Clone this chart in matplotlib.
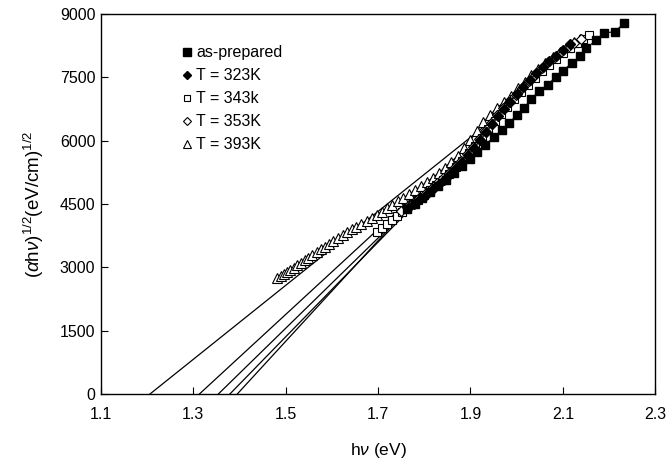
import numpy as np
import matplotlib
matplotlib.use('Agg')
import matplotlib.pyplot as plt

plt.rcParams['font.family'] = ['Liberation Sans', 'DejaVu Sans']
plt.rcParams['mathtext.fontset'] = 'custom'
plt.rcParams['mathtext.rm'] = 'Liberation Sans'
plt.rcParams['mathtext.it'] = 'Liberation Sans:italic'

# as-prepared (filled squares)
x_asp = [1.762, 1.779, 1.796, 1.813, 1.830, 1.847, 1.864, 1.881, 1.898, 1.915,
         1.932, 1.950, 1.969, 1.983, 2.001, 2.016, 2.032, 2.048, 2.067, 2.084,
         2.101, 2.119, 2.138, 2.150, 2.172, 2.190, 2.212, 2.232]
y_asp = [4380, 4510, 4640, 4780, 4920, 5070, 5230, 5400, 5570, 5740,
         5910, 6080, 6250, 6431, 6604, 6785, 6997, 7178, 7327, 7508,
         7665, 7846, 8003, 8187, 8384, 8558, 8582, 8780]

# T = 323K (filled diamonds)
x_323 = [1.765, 1.778, 1.791, 1.804, 1.817, 1.830, 1.843, 1.856, 1.869, 1.882,
         1.895, 1.908, 1.921, 1.934, 1.947, 1.960, 1.973, 1.986, 2.000, 2.014,
         2.028, 2.042, 2.056, 2.070, 2.085, 2.100, 2.115]
y_323 = [4400, 4500, 4610, 4720, 4840, 4960, 5080, 5210, 5350, 5500,
         5660, 5830, 6010, 6200, 6390, 6580, 6760, 6930, 7100, 7270,
         7440, 7600, 7750, 7890, 8020, 8160, 8290]

# T = 343k (open squares)
x_343 = [1.697, 1.708, 1.719, 1.730, 1.741, 1.752, 1.763, 1.775, 1.787, 1.800,
         1.813, 1.826, 1.840, 1.854, 1.868, 1.882, 1.896, 1.910, 1.924, 1.938,
         1.952, 1.966, 1.980, 1.995, 2.010, 2.025, 2.040, 2.055, 2.070, 2.085,
         2.100, 2.115, 2.130, 2.143, 2.156]
y_343 = [3850, 3935, 4025, 4115, 4210, 4310, 4400, 4500, 4600, 4710,
         4830, 4950, 5080, 5220, 5370, 5530, 5700, 5880, 6070, 6270,
         6460, 6640, 6810, 6980, 7150, 7320, 7490, 7650, 7800, 7940,
         8080, 8200, 8320, 8420, 8500]

# T = 353K (open diamonds)
x_353 = [1.750, 1.763, 1.776, 1.789, 1.802, 1.815, 1.828, 1.841, 1.854, 1.867,
         1.880, 1.893, 1.906, 1.919, 1.932, 1.945, 1.958, 1.971, 1.984, 1.998,
         2.012, 2.026, 2.040, 2.054, 2.068, 2.082, 2.096, 2.110, 2.125, 2.140]
y_353 = [4330, 4430, 4530, 4640, 4750, 4870, 4990, 5110, 5240, 5380,
         5530, 5690, 5860, 6040, 6230, 6420, 6600, 6770, 6930, 7090,
         7250, 7410, 7570, 7720, 7860, 7990, 8110, 8220, 8320, 8400]

# T = 393K (open triangles)
x_393 = [1.482, 1.489, 1.496, 1.503, 1.510, 1.517, 1.525, 1.533, 1.541, 1.549,
         1.558, 1.567, 1.576, 1.585, 1.594, 1.603, 1.613, 1.623, 1.633, 1.643,
         1.653, 1.664, 1.675, 1.686, 1.697, 1.708, 1.719, 1.731, 1.743, 1.755,
         1.767, 1.779, 1.792, 1.805, 1.818, 1.831, 1.844, 1.858, 1.872, 1.886,
         1.900, 1.914, 1.928, 1.942, 1.957, 1.972, 1.987, 2.002, 2.017, 2.032,
         2.047, 2.062, 2.078, 2.094, 2.110, 2.125, 2.138]
y_393 = [2740, 2790, 2840, 2890, 2945, 2995, 3055, 3115, 3175, 3235,
         3300, 3365, 3430, 3495, 3560, 3625, 3695, 3765, 3835, 3900,
         3970, 4040, 4110, 4180, 4250, 4325, 4400, 4480, 4565, 4650,
         4735, 4825, 4920, 5020, 5125, 5235, 5355, 5490, 5640, 5820,
         6020, 6230, 6440, 6610, 6770, 6920, 7070, 7240, 7400, 7560,
         7700, 7840, 7980, 8110, 8230, 8340, 8420]

# extrapolated fit lines: intercept (Eg) and upper end point
fit_eg = [1.206, 1.313, 1.354, 1.379, 1.395]
fit_x_end = [1.925, 1.880, 1.880, 1.880, 1.840]
fit_y_end = [6300, 5720, 5620, 5620, 5300]

labels = ['as-prepared', 'T = 323K', 'T = 343k', 'T = 353K', 'T = 393K']

fig = plt.figure(figsize=(6.68, 4.72), dpi=100)
ax = fig.add_axes([0.151, 0.165, 0.830, 0.805])

for i in range(len(fit_eg)):
    ax.plot([fit_eg[i], fit_x_end[i]], [0, fit_y_end[i]], color='black', lw=0.9)

ms = 6
ax.plot(x_393, y_393, color='black', lw=0.8, marker='^', ms=ms + 0.5, mfc='white', mec='black', mew=0.8, label=labels[4])
ax.plot(x_343, y_343, color='black', lw=0.8, marker='s', ms=ms - 0.5, mfc='white', mec='black', mew=0.8, label=labels[2])
ax.plot(x_353, y_353, color='black', lw=0.8, marker='D', ms=ms - 1, mfc='white', mec='black', mew=0.8, label=labels[3])
ax.plot(x_asp, y_asp, color='black', lw=0.8, marker='s', ms=ms, mfc='black', mec='black', label=labels[0])
ax.plot(x_323, y_323, color='black', lw=0.8, marker='D', ms=ms - 1, mfc='black', mec='black', label=labels[1])

ax.set_xlim(1.1, 2.3)
ax.set_ylim(0, 9000)
ax.set_xticks([1.1, 1.3, 1.5, 1.7, 1.9, 2.1, 2.3])
ax.set_xticklabels(['1.1', '1.3', '1.5', '1.7', '1.9', '2.1', '2.3'])
ax.set_yticks([0, 1500, 3000, 4500, 6000, 7500, 9000])
ax.tick_params(direction='in', length=5, width=0.8, labelsize=11.5)
ax.tick_params(axis='x', pad=9)
ax.tick_params(axis='y', pad=4)
for s in ax.spines.values():
    s.set_linewidth(1.0)

ax.set_xlabel(r'h$\nu$ (eV)', fontsize=12.5, labelpad=14)
ax.set_ylabel(r'$(\alpha \mathrm{h}\nu)^{1/2}(\mathrm{eV/cm})^{1/2}$', fontsize=13.5, labelpad=10)

h, l = ax.get_legend_handles_labels()
order = [l.index(t) for t in labels]
leg_handles = []
for k in order:
    hh = h[k]
    proxy = plt.Line2D([], [], ls='none', marker=hh.get_marker(), ms=hh.get_markersize() - 0.5,
                       mfc=hh.get_markerfacecolor(), mec='black', mew=hh.get_markeredgewidth())
    leg_handles.append(proxy)
ax.legend(leg_handles, labels, loc='upper left', bbox_to_anchor=(0.135, 0.935),
          frameon=False, fontsize=11.5, handlelength=0.6, handletextpad=0.3,
          labelspacing=0.5, borderaxespad=0)

fig.savefig('out.png', dpi=100)
